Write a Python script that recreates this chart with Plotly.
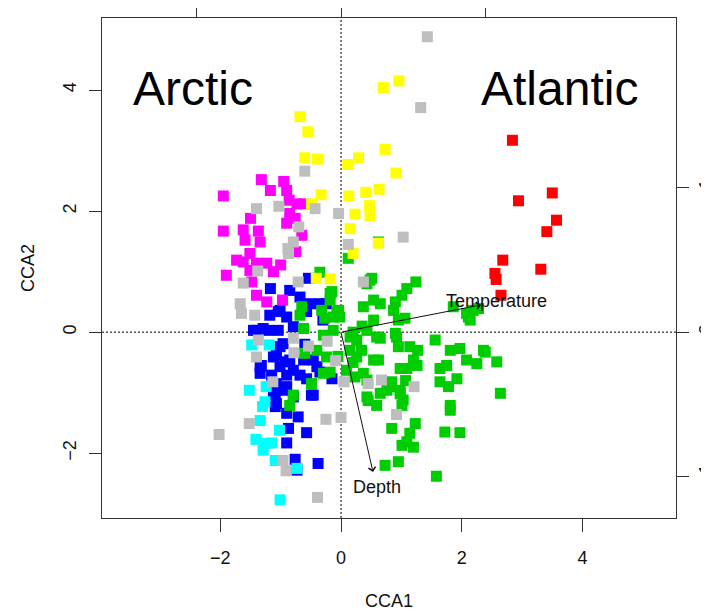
import plotly.graph_objects as go

# ---------------- data ----------------
red_x = [2.84, 3.50, 2.94, 3.57, 3.41, 2.68, 3.31, 2.55, 2.57, 2.65]
red_y = [3.17, 2.30, 2.17, 1.85, 1.66, 1.19, 1.04, 0.97, 0.87, 0.61]

yellow_x = [0.96, 0.70, -0.68, -0.55, 0.73, 0.29, 0.11, -0.60, -0.39, 0.91, 0.63, 0.41,
            0.13, -0.33, 0.47, 0.48, 0.23, 0.15, 0.62, 0.20, -0.49, -0.41, -0.18]
yellow_y = [4.15, 4.04, 3.56, 3.31, 3.02, 2.88, 2.77, 2.88, 2.86, 2.63, 2.36, 2.31,
            2.25, 2.27, 2.09, 1.92, 1.95, 1.71, 1.47, 1.30, 2.12, 0.89, 0.88]

grey_x = [1.43, 1.32, -0.60, -0.43, -0.04, 1.03, 0.12, -1.40, -1.03, -0.70, -0.79, -0.88,
          -0.87, -1.38, -1.62, -0.71, 0.37, -1.67, -1.65, -1.43, -1.37, -1.40, -0.79, -0.78,
          -0.54, -0.23, -0.09, -1.13, 0.05, -0.25, 0.00, -1.52, -2.02, -0.96, -0.91, -0.39,
          0.45, 0.67, 1.21, 0.92]
grey_y = [4.88, 3.71, 2.66, 2.04, 1.96, 1.57, 1.45, 2.04, 2.08, 1.74, 1.49, 1.38,
          1.30, 1.01, 0.81, 0.83, 0.83, 0.47, 0.31, 0.28, -0.13, -0.41, -0.10, -0.34,
          -0.23, -0.15, -0.47, -0.82, -0.82, -1.44, -1.41, -1.51, -1.69, -2.12, -2.29, -2.73,
          -0.85, -0.79, -0.90, -1.36]

magenta_x = [-1.32, -0.95, -1.17, -0.90, -1.95, -0.86, -0.73, -0.62, -0.85, -1.50, -0.76,
             -1.62, -1.37, -1.95, -0.90, -0.65, -1.59, -1.34, -1.51, -0.75, -1.73, -1.62,
             -1.40, -1.23, -1.00, -1.12, -1.90, -1.51, -1.40, -1.48, -1.40, -1.23, -0.97]
magenta_y = [2.52, 2.49, 2.34, 2.34, 2.25, 2.18, 2.12, 2.12, 1.96, 1.88, 1.88,
             1.69, 1.67, 1.67, 1.80, 1.60, 1.52, 1.49, 1.30, 1.33, 1.19, 1.16,
             1.14, 1.14, 1.11, 1.00, 0.94, 1.02, 1.05, 0.83, 0.61, 0.50, 0.53]

cyan_x = [-1.48, -1.19, -1.52, -1.24, -1.26, -1.30, -1.34, -1.02, -1.41, -1.26, -1.15,
          -1.29, -1.09, -0.73, -1.01]
cyan_y = [-0.21, -0.21, -0.96, -0.90, -1.15, -1.23, -1.46, -1.62, -1.77, -1.84, -1.83,
          -1.95, -2.12, -2.25, -2.77]

blue_x = [-1.17, -0.85, -0.54, -0.68, -1.01, -1.18, -0.90, -0.51, -0.35, -0.24, -1.40,
          -1.21, -1.04, -1.01, -1.12, -1.34, -1.01, -0.85, -0.62, -0.46, -0.40, -0.68,
          -0.90, -1.15, -1.09, -0.96, -0.46, -1.09, -0.90, -0.71, -0.87, -0.57, -0.90,
          -0.76, -0.38, -0.73, -0.15, -1.04, -0.57, -1.29, -1.45, -0.79, -0.96, -1.07,
          -0.93, -1.32, -1.34, -0.79, -0.57, -0.35, -1.07, -0.90, -1.12, -0.79, -0.49,
          -1.07, -0.60, -0.30]
blue_y = [0.72, 0.69, 0.89, 0.58, 0.36, 0.28, 0.25, 0.47, 0.47, 0.47, 0.03,
          0.03, 0.03, -0.24, -0.41, -0.57, -0.57, -0.46, -0.46, -0.46, -0.57, -0.71,
          -0.71, -0.71, -1.01, -0.96, -1.04, -1.23, -1.34, -1.40, -1.59, -1.66, -1.83,
          -2.10, -2.17, -2.28, -0.77, 0.34, 0.34, 0.06, 0.03, 0.09, -0.19, -0.38,
          -0.49, -0.55, -0.68, -0.63, -0.77, -0.66, -0.85, -0.90, -1.04, -1.07, -1.04,
          -1.18, -0.20, 0.20]

green_x = [-0.35, -0.18, -0.65, -0.68, -0.62, -0.32, -0.27, -0.07, -0.29, -0.13, -0.40,
           -0.24, -0.29, -0.18, -0.49, -0.79, -0.85, -0.60, -0.15,
           0.12, 0.62, 0.48, 0.51, 0.43, 1.24, 1.09, 1.01, 0.37, 0.54, 0.65, 0.90, 0.87,
           -0.04, -0.02, 0.54, 0.95, 1.06, -0.18, -0.13, 2.08, 2.14, 2.28, 1.86, 2.11, 2.19,
           1.97, 2.36, 0.15, 0.26, 0.43, 0.65, 0.92, 0.95, 1.14, 1.27, 1.56, 0.15, 0.26,
           0.34, 0.54, 0.62, 1.20, 1.26, 0.98, 1.09, 1.81, 1.64, 1.75, 2.08, 2.25, 2.39,
           2.58, 1.92, 1.64, 1.78, 0.37, 0.43, 0.09, 0.84, 0.98, 0.65, 0.76, 0.43, 0.59,
           1.03, 1.01, 2.64, 1.81, 1.23, 1.14, 0.84, 1.72, 1.97, 1.01, 1.20, 1.09, 0.95,
           0.73, 1.58, 0.90, 0.59, 0.23, 1.07, 0.81, 0.45, 1.81, 0.98, 0.20, 0.20, -0.05, 0.35]
green_y = [0.99, 0.64, 0.42, 0.28, 0.06, 0.36, 0.23, 0.34, -0.05, 0.03, -0.30,
           -0.41, -0.68, -0.66, -0.85, -1.04, -1.21, -0.35, 0.67,
           1.22, 1.49, 0.86, 0.89, 0.80, 0.83, 0.72, 0.61, 0.42, 0.53, 0.47, 0.50, 0.36,
           0.36, 0.25, 0.20, 0.20, 0.23, 0.53, 0.25, 0.31, 0.20, 0.39, 0.42, 0.25, 0.36,
           -0.27, -0.30, -0.08, -0.13, 0.03, -0.10, -0.08, -0.24, -0.24, -0.30, -0.13, -0.30, -0.41,
           -0.30, -0.46, -0.46, -0.46, -0.55, -0.60, -0.60, -0.30, -0.60, -0.55, -0.46, -0.52, -0.33,
           -0.49, -0.77, -0.82, -0.90, -0.68, -0.79, -0.63, -0.82, -0.96, -1.01, -0.96, -1.07, -1.21,
           -1.12, -1.21, -1.01, -1.29, -1.51, -1.67, -1.59, -1.65, -1.66, -1.87, -1.90, -1.81, -2.14,
           -2.20, -2.38, -0.02, -0.08, -0.74, -0.80, -0.90, -1.13, -1.21, -1.02, 0.00, -0.50, -0.40, 0.10]

# environmental arrows (biplot scores) and their label positions
env_names = ["Temperature", "Depth"]
env_x = [2.32, 0.53]
env_y = [0.45, -2.31]
env_lab_x = [2.57, 0.59]
env_lab_y = [0.52, -2.55]

regions = ["Arctic", "Atlantic"]
region_x = [-2.45, 3.62]
region_y = [4.03, 4.03]

x_ticks = [-2, 0, 2, 4]
y_ticks = [-2, 0, 2, 4]
top_ticks = [-1, 0, 1]
right_ticks = [-1, 0, 1]

# ---------------- figure ----------------
groups = [
    (blue_x, blue_y, "#0000FF"),
    (cyan_x, cyan_y, "#00FFFF"),
    (magenta_x, magenta_y, "#FF00FF"),
    (green_x, green_y, "#00CD00"),
    (red_x, red_y, "#FF0000"),
    (yellow_x, yellow_y, "#FFFF00"),
    (grey_x, grey_y, "#BEBEBE"),
]

fig = go.Figure()
for gx, gy, col in groups:
    fig.add_trace(go.Scatter(
        x=gx, y=gy, mode="markers",
        marker=dict(symbol="square", size=11, color=col, line=dict(width=0)),
        showlegend=False, hoverinfo="skip"))

# dummy trace for secondary (biplot) axes
fig.add_trace(go.Scatter(x=[0], y=[0], xaxis="x2", yaxis="y2", mode="markers",
                         marker=dict(opacity=0), showlegend=False, hoverinfo="skip"))

FONT = "Liberation Sans, Arial, sans-serif"
axcol = "#333333"

fig.update_layout(
    width=709, height=612,
    margin=dict(l=94, r=41, t=10, b=102, autoexpand=False),
    paper_bgcolor="white", plot_bgcolor="white",
    font=dict(family=FONT, size=18, color="#111111"),
    xaxis=dict(range=[-3.96, 5.55], tickvals=x_ticks, ticks="outside", ticklen=13,
               tickcolor=axcol, showline=True, mirror=True, linecolor=axcol, linewidth=1,
               showgrid=False, zeroline=False, ticklabelstandoff=10, automargin=False,
               title=dict(text="CCA1", standoff=27, font=dict(size=18))),
    yaxis=dict(range=[-3.07, 5.19], tickvals=y_ticks, ticks="outside", ticklen=12,
               tickcolor=axcol, showline=True, mirror=True, linecolor=axcol, linewidth=1,
               showgrid=False, zeroline=False, tickangle=-90, ticklabelstandoff=6,
               automargin=False,
               title=dict(text="CCA2", standoff=20, font=dict(size=18))),
    xaxis2=dict(overlaying="x", side="top", range=[-1.654, 2.318], tickvals=top_ticks,
                ticks="outside", ticklen=13, tickcolor=axcol, showticklabels=False,
                showgrid=False, zeroline=False, showline=False, automargin=False),
    yaxis2=dict(overlaying="y", side="right", range=[-1.283, 2.166], tickvals=right_ticks,
                ticks="outside", ticklen=12, tickcolor=axcol, tickangle=-90,
                ticklabelstandoff=1, showgrid=False, zeroline=False, showline=False,
                automargin=False),
    shapes=[
        dict(type="line", xref="x", yref="paper", x0=0, x1=0, y0=0, y1=1,
             line=dict(color="black", width=1, dash="2px,2px"), layer="below"),
        dict(type="line", xref="paper", yref="y", x0=0, x1=1, y0=0, y1=0,
             line=dict(color="black", width=1, dash="2px,2px"), layer="below"),
    ],
)

annotations = []
for name, x, y in zip(regions, region_x, region_y):
    annotations.append(dict(x=x, y=y, xref="x", yref="y", text=name, showarrow=False,
                            font=dict(size=48, color="black", family=FONT)))
for name, x, y, lx, ly in zip(env_names, env_x, env_y, env_lab_x, env_lab_y):
    annotations.append(dict(x=x, y=y, ax=0, ay=0, xref="x", yref="y", axref="x", ayref="y",
                            text="", showarrow=True, arrowhead=4, arrowsize=1.4,
                            arrowwidth=1, arrowcolor="#111111", standoff=0, startstandoff=0))
    annotations.append(dict(x=lx, y=ly, xref="x", yref="y", text=name, showarrow=False,
                            font=dict(size=18, color="#111111", family=FONT)))
fig.update_layout(annotations=annotations)

fig.write_html("out.html")
